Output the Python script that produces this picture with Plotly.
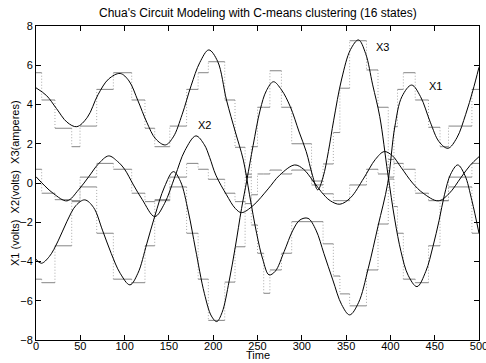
import plotly.graph_objects as go

# ---- smooth curves ----
x1_t = [0, 12, 23, 35, 46, 58, 70, 82, 95, 105, 115, 125, 135, 146, 155, 165, 175, 185, 195, 205,
        215, 225, 234, 241, 249, 256, 263, 270, 280, 290, 298, 307, 316, 325, 335, 345, 354, 364,
        375, 386, 397, 405, 413, 424, 434, 445, 455, 465, 475, 485, 493, 500]
x1_v = [4.85, 4.45, 3.8, 3.1, 2.87, 3.35, 4.5, 5.3, 5.58, 5.2, 4.2, 3.1, 2.25, 1.94, 2.35, 3.5, 4.95, 6.15, 6.78, 6.2,
        4.23, 2.6, 1.17, -0.6, -2.56, -3.9, -4.68, -4.5, -3.5, -2.4, -1.88, -1.8, -2.4, -3.6, -4.94, -6.2, -6.72, -6.1,
        -4.35, -2.2, -0.01, 2.87, 4.4, 4.99, 4.4, 3.1, 2.1, 1.77, 2.3, 3.5, 4.7, 5.9]

x2_t = [0, 10, 20, 35, 48, 60, 70, 82, 92, 100, 110, 120, 134, 145, 157, 168, 180.5, 190, 196, 203,
        215, 225, 232, 245, 262, 275, 292, 302, 312, 322, 332, 343, 355, 370, 383, 393, 402, 412,
        425, 437, 454, 466, 480, 490, 500]
x2_v = [0.32, -0.15, -0.55, -0.91, -0.35, 0.35, 0.95, 1.38, 1.1, 0.7, -0.1, -0.85, -1.71, -1.05, 0.35, 1.65, 2.4, 1.95, 1.3, 0.4,
        -0.6, -1.3, -1.51, -1.15, -0.3, 0.4, 0.92, 0.7, 0.15, -0.45, -0.9, -1.08, -0.75, 0.25, 1.2, 1.6, 1.4, 0.8,
        0.0, -0.52, -0.91, -0.55, 0.3, 0.9, 1.34]

x3_t = [0, 6, 15, 25, 35, 45, 55, 65, 75, 85, 95, 106, 115, 125, 134, 145, 155, 163, 172, 180, 190,
        198, 204, 210, 218, 225, 232, 238, 245, 253, 260, 268, 277, 287, 297, 305, 312, 318, 324, 330,
        336, 345, 355, 364, 372, 380, 388, 397, 405, 412, 420, 430, 440, 448, 455, 461, 468, 476, 484,
        492, 500]
x3_v = [-3.89, -4.09, -3.75, -2.95, -1.95, -1.15, -0.86, -1.25, -2.4, -3.6, -4.6, -5.19, -4.6, -3.1, -1.7, -0.2, 0.58, 0.09, -1.48, -3.36, -5.62,
        -6.78, -7.06, -6.6, -5.0, -3.24, -1.3, 0.15, 1.9, 3.72, 4.7, 5.16, 4.75, 3.89, 2.6, 1.6, 0.4, -0.35, 0.3, 1.6,
        3.2, 5.3, 6.8, 7.29, 6.6, 5.0, 3.38, 0.5, -1.88, -3.5, -4.7, -5.28, -4.5, -3.24, -1.9, -0.6, 0.45, 0.92, 0.4,
        -0.9, -2.56]

# ---- quantized states (C-means, 16 states): segment start times and levels ----
step_t = [0, 6.4, 21.4, 40.3, 49.7, 68.5, 87.3, 108, 123, 134, 151, 170, 183, 194.5, 213, 224.6, 236, 243,
          250, 257, 264, 277, 288.6, 311, 324, 335.6, 343, 354, 373, 386, 397.6, 404, 408, 414.6, 428,
          443, 456, 465.6, 492]
step_end = 500
step_x1 = [5.62, 4.23, 2.79, 1.85, 2.90, 4.77, 5.62, 4.23, 2.79, 1.85, 2.90, 4.77, 5.62, 6.18, 4.23, 1.82, 0.45, -2.14,
           -3.58, -5.62, -4.43, -3.58, -1.97, -1.97, -3.10, -4.74, -5.65, -6.26, -4.43, -2.09, 0.30, 2.87, 4.77, 5.62, 4.23,
           2.84, 1.85, 2.90, 4.77]
step_x2 = [0.70, -0.52, -0.85, -0.95, 0.30, 1.00, 0.70, -0.52, -0.95, -0.85, 0.30, 1.00, 0.70, 0.19, -0.52, -0.95, -1.05, -0.60,
           0.46, 0.46, 0.66, 0.46, 0.66, 0.10, -0.55, -0.90, -0.90, -0.10, 0.70, 0.46, 1.20, 1.00, 1.00, 0.70, -0.52,
           -0.90, -0.90, 0.30, 1.00]
step_x3 = [-4.90, -5.08, -3.20, -0.90, -0.20, -2.56, -4.90, -5.08, -3.20, -0.90, -0.20, -2.56, -4.90, -7.00, -5.05, -3.25, 0.30, 1.85,
           3.86, 3.86, 5.72, 3.86, 2.00, -0.10, 0.97, 2.57, 4.83, 7.25, 5.76, 3.86, 0.20, -1.20, -2.56, -4.90, -5.08,
           -3.20, -0.90, -0.20, -2.56]

labels = [("X2", 181, 2.96), ("X3", 381, 6.93), ("X1", 441, 4.93)]

title = "Chua's Circuit Modeling with C-means clustering (16 states)"
x_title = "Time"
y_title = "X1 (volts)  X2(volts)  X3(amperes)"
x_ticks = list(range(0, 501, 50))
y_ticks = list(range(-8, 9, 2))

fig = go.Figure()

ends = step_t[1:] + [step_end]
for lv in (step_x1, step_x2, step_x3):
    hx, hy, vx, vy = [], [], [], []
    for i, (a, b) in enumerate(zip(step_t, ends)):
        hx += [a, b, None]
        hy += [lv[i], lv[i], None]
        if i + 1 < len(lv):
            vx += [b, b, None]
            vy += [lv[i], lv[i + 1], None]
    fig.add_trace(go.Scatter(x=vx, y=vy, mode="lines",
                             line=dict(color="#a8a8a8", width=1, dash="1px,2px"),
                             hoverinfo="skip"))
    fig.add_trace(go.Scatter(x=hx, y=hy, mode="lines",
                             line=dict(color="#858585", width=1),
                             hoverinfo="skip"))

for t, v in ((x1_t, x1_v), (x2_t, x2_v), (x3_t, x3_v)):
    fig.add_trace(go.Scatter(x=t, y=v, mode="lines",
                             line=dict(color="black", width=1.0, shape="spline", smoothing=1.0)))

for txt, lx, ly in labels:
    fig.add_annotation(x=lx, y=ly, text=txt, showarrow=False, xanchor="left", yanchor="middle",
                       font=dict(size=11, color="black"))

fig.add_annotation(xref="paper", yref="paper", x=0.5, y=1 + 13 / 314, text=title, showarrow=False,
                   xanchor="center", yanchor="middle", font=dict(size=12, color="black"))
fig.add_annotation(xref="paper", yref="paper", x=0.5, y=-23 / 314, text=x_title, showarrow=False,
                   xanchor="center", yanchor="bottom", font=dict(size=11, color="black"))
fig.add_annotation(xref="paper", yref="paper", x=-21 / 443, y=0.5, text=y_title, showarrow=False,
                   textangle=-90, xanchor="center", yanchor="middle", font=dict(size=11, color="black"))

axis_common = dict(showgrid=False, zeroline=False, showline=True, linecolor="black", linewidth=1,
                   mirror="allticks", ticks="inside", ticklen=5, tickcolor="black",
                   ticklabeloverflow="allow", tickfont=dict(size=11, color="black"))
fig.update_xaxes(range=[0, 500], tickvals=x_ticks, ticklabelstandoff=-4, **axis_common)
fig.update_yaxes(range=[-8, 8], tickvals=y_ticks, **axis_common)

fig.update_layout(width=486, height=363, margin=dict(l=36, r=7, t=26, b=23, autoexpand=False),
                  paper_bgcolor="white", plot_bgcolor="white", showlegend=False,
                  font=dict(family="Liberation Sans, Arial, sans-serif", size=11, color="black"))

fig.write_html("out.html", config={"displayModeBar": False},
               post_script="document.body.style.margin='0px';document.body.style.overflow='hidden';")
